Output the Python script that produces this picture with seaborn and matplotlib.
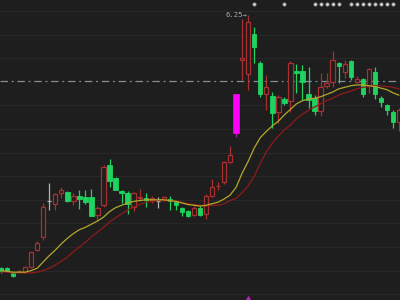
import numpy as np
import pandas as pd
import matplotlib
matplotlib.use("Agg")
import matplotlib.pyplot as plt
import matplotlib.transforms as mtransforms
from matplotlib.patches import Rectangle
import seaborn as sns

# ---------------- data ----------------
opens = [3.03, 3.03, 2.97, 2.99, 2.98, 3.04, 3.26, 3.43, 3.88, 3.85,
         3.98, 4.00, 3.88, 3.95, 3.94, 3.93, 3.71, 3.83, 4.34, 4.18,
         4.01, 3.99, 3.81, 3.92, 3.92, 3.90, 3.88, 3.90, 3.91, 3.87,
         3.79, 3.76, 3.71, 3.80, 3.72, 3.95, 4.07, 4.12, 4.38, 4.75,
         5.68, 5.50, 6.01, 5.64, 5.25, 5.22, 5.01, 5.18, 5.16, 5.54,
         5.54, 5.25, 5.20, 5.03, 5.35, 5.40, 5.64, 5.52, 5.66, 5.40,
         5.44, 5.35, 5.52, 5.19, 5.10, 5.02, 4.89]
highs = [3.05, 3.05, 2.98, 3.01, 3.06, 3.24, 3.38, 3.86, 4.11, 3.99,
         4.06, 4.01, 3.99, 4.02, 4.02, 4.04, 3.82, 4.34, 4.42, 4.19,
         4.02, 4.01, 4.00, 4.04, 3.99, 3.95, 3.93, 3.95, 3.95, 3.89,
         3.81, 3.77, 3.82, 3.82, 3.97, 4.16, 4.13, 4.39, 4.58, 5.24,
         6.20, 6.25, 6.10, 5.66, 5.49, 5.27, 5.23, 5.21, 5.66, 5.63,
         5.61, 5.59, 5.23, 5.51, 5.51, 5.79, 5.65, 5.68, 5.68, 5.47,
         5.45, 5.58, 5.59, 5.22, 5.12, 5.04, 5.07]
lows = [2.97, 2.98, 2.92, 2.98, 2.97, 3.03, 3.25, 3.39, 3.77, 3.77,
        3.92, 3.87, 3.83, 3.78, 3.85, 3.69, 3.64, 3.81, 4.06, 4.02,
        3.86, 3.72, 3.76, 3.88, 3.81, 3.86, 3.80, 3.89, 3.77, 3.77,
        3.69, 3.68, 3.69, 3.69, 3.66, 3.94, 4.02, 4.10, 4.37, 4.70,
        5.42, 5.30, 5.64, 5.21, 5.04, 4.81, 4.87, 5.11, 5.02, 5.26,
        5.17, 5.07, 4.98, 4.96, 5.32, 5.33, 5.38, 5.45, 5.42, 5.38,
        5.21, 5.26, 5.18, 5.08, 4.98, 4.81, 4.77]
closes = [2.99, 2.99, 2.93, 3.00, 3.04, 3.23, 3.35, 3.81, 3.88, 3.97,
          4.02, 3.88, 3.95, 3.91, 3.87, 3.70, 3.80, 4.32, 4.14, 4.03,
          3.99, 3.85, 3.98, 3.94, 3.90, 3.92, 3.88, 3.93, 3.89, 3.83,
          3.75, 3.70, 3.80, 3.71, 3.95, 4.06, 4.08, 4.38, 4.47, 5.24,
          5.70, 6.16, 5.84, 5.25, 5.33, 5.00, 5.21, 5.13, 5.64, 5.51,
          5.40, 5.17, 5.03, 5.34, 5.39, 5.68, 5.60, 5.63, 5.46, 5.44,
          5.24, 5.56, 5.24, 5.14, 5.04, 4.89, 5.04]
ma_fast = [3.00, 2.99, 2.98, 2.98, 2.98, 3.00, 3.03, 3.11, 3.19, 3.26,
           3.34, 3.41, 3.47, 3.52, 3.55, 3.59, 3.63, 3.68, 3.75, 3.80,
           3.83, 3.86, 3.88, 3.89, 3.90, 3.90, 3.90, 3.90, 3.89, 3.88,
           3.86, 3.84, 3.83, 3.82, 3.83, 3.85, 3.87, 3.91, 3.96, 4.06,
           4.24, 4.39, 4.56, 4.69, 4.77, 4.84, 4.90, 4.98, 5.05, 5.12,
           5.16, 5.18, 5.19, 5.21, 5.24, 5.27, 5.31, 5.33, 5.35, 5.36,
           5.36, 5.35, 5.34, 5.32, 5.30, 5.26, 5.23]
ma_slow = [2.98, 2.98, 2.97, 2.97, 2.97, 2.97, 2.98, 3.00, 3.03, 3.07,
           3.12, 3.17, 3.24, 3.30, 3.36, 3.43, 3.49, 3.55, 3.62, 3.67,
           3.72, 3.77, 3.81, 3.84, 3.87, 3.88, 3.89, 3.89, 3.89, 3.89,
           3.87, 3.85, 3.84, 3.83, 3.82, 3.83, 3.83, 3.85, 3.89, 3.92,
           3.99, 4.08, 4.20, 4.36, 4.51, 4.62, 4.71, 4.79, 4.85, 4.93,
           4.99, 5.04, 5.08, 5.12, 5.16, 5.19, 5.23, 5.26, 5.28, 5.31,
           5.33, 5.34, 5.35, 5.35, 5.34, 5.33, 5.31]
limit_up_idx = [39]
event_idx = [42, 47, 52, 53, 54, 55, 56, 58, 59, 60, 61, 62, 63, 64, 65]
bottom_marker_idx = [41]
ref_price = 5.41
high_label = "6.25"

# ---------------- styling ----------------
BG = "#1e1e1e"
GRID = "#282828"
RED = "#a83030"
GREEN = "#1ed35f"
GREY = "#b4b4b4"
MAGENTA = "#ff00ff"
YELLOW = "#b3a82a"
DARKRED = "#8f1b1b"

sns.set_theme(style="dark")
plt.rcParams["font.family"] = ["DejaVu Sans Mono", "DejaVu Sans"]

fig = plt.figure(figsize=(4, 3), dpi=100, facecolor=BG)
ax = fig.add_axes([0, 0, 1, 1])
ax.set_facecolor(BG)
ax.set_xlim(-0.166, 66.17)
ax.set_ylim(2.626, 6.44)
for s in ax.spines.values():
    s.set_visible(False)
ax.grid(False)

# horizontal grid
for g in np.arange(2.7, 6.41, 0.3):
    if abs(g - ref_price) < 0.05:
        continue
    ax.axhline(g, color=GRID, lw=0.8, zorder=0)
ax.axhline(ref_price, color="#8a8c94", lw=0.9, ls=(0, (6, 3, 1.5, 3)), zorder=1)

# candles
w = 0.72
n = len(opens)
for i in range(n):
    o, h, l, c = opens[i], highs[i], lows[i], closes[i]
    if i in limit_up_idx:
        ax.vlines(i, l, h, color="#a020a0", lw=1.0, zorder=2)
        ax.add_patch(Rectangle((i - 0.5, min(o, c)), 1.0, abs(c - o),
                               facecolor=MAGENTA, edgecolor=MAGENTA, lw=0.5, zorder=2))
        continue
    if c == o:
        ax.vlines(i, l, h, color=GREY, lw=0.9, zorder=2)
        ax.hlines(o, i - w / 2, i + w / 2, color=GREY, lw=0.9, zorder=2)
    elif c > o:
        ax.vlines(i, l, h, color=RED, lw=0.9, zorder=2)
        ax.add_patch(Rectangle((i - w / 2, o), w, c - o, facecolor=BG,
                               edgecolor=RED, lw=0.9, zorder=2))
    else:
        ax.vlines(i, l, h, color=GREEN, lw=0.9, zorder=2)
        ax.add_patch(Rectangle((i - w / 2, c), w, o - c, facecolor=GREEN,
                               edgecolor=GREEN, lw=0.6, zorder=2))

# moving averages
df = pd.DataFrame({"idx": np.arange(n), "fast": ma_fast, "slow": ma_slow})
sns.lineplot(data=df, x="idx", y="slow", color=DARKRED, lw=0.9, ax=ax, zorder=3)
sns.lineplot(data=df, x="idx", y="fast", color=YELLOW, lw=0.9, ax=ax, zorder=3)
ax.set_xlabel("")
ax.set_ylabel("")
ax.set_xticks([])
ax.set_yticks([])

# event dots at top and marker at bottom
trans = mtransforms.blended_transform_factory(ax.transData, ax.transAxes)
ax.scatter(event_idx, [0.988] * len(event_idx), s=6, color="#d0d0d0",
           edgecolors="#8a8a8a", linewidths=0.4, transform=trans, zorder=4)
ax.scatter(bottom_marker_idx, [0.006] * len(bottom_marker_idx), s=6, marker="^",
           color="#c020c0", transform=trans, zorder=4)

# high label
hi_i = int(np.argmax(highs))
ax.text(hi_i - 0.2, highs[hi_i], high_label + "\u2192", ha="right", va="center",
        fontsize=5.2, color="#a8a8a8", zorder=4)

fig.savefig("out.png", dpi=100, facecolor=BG)
